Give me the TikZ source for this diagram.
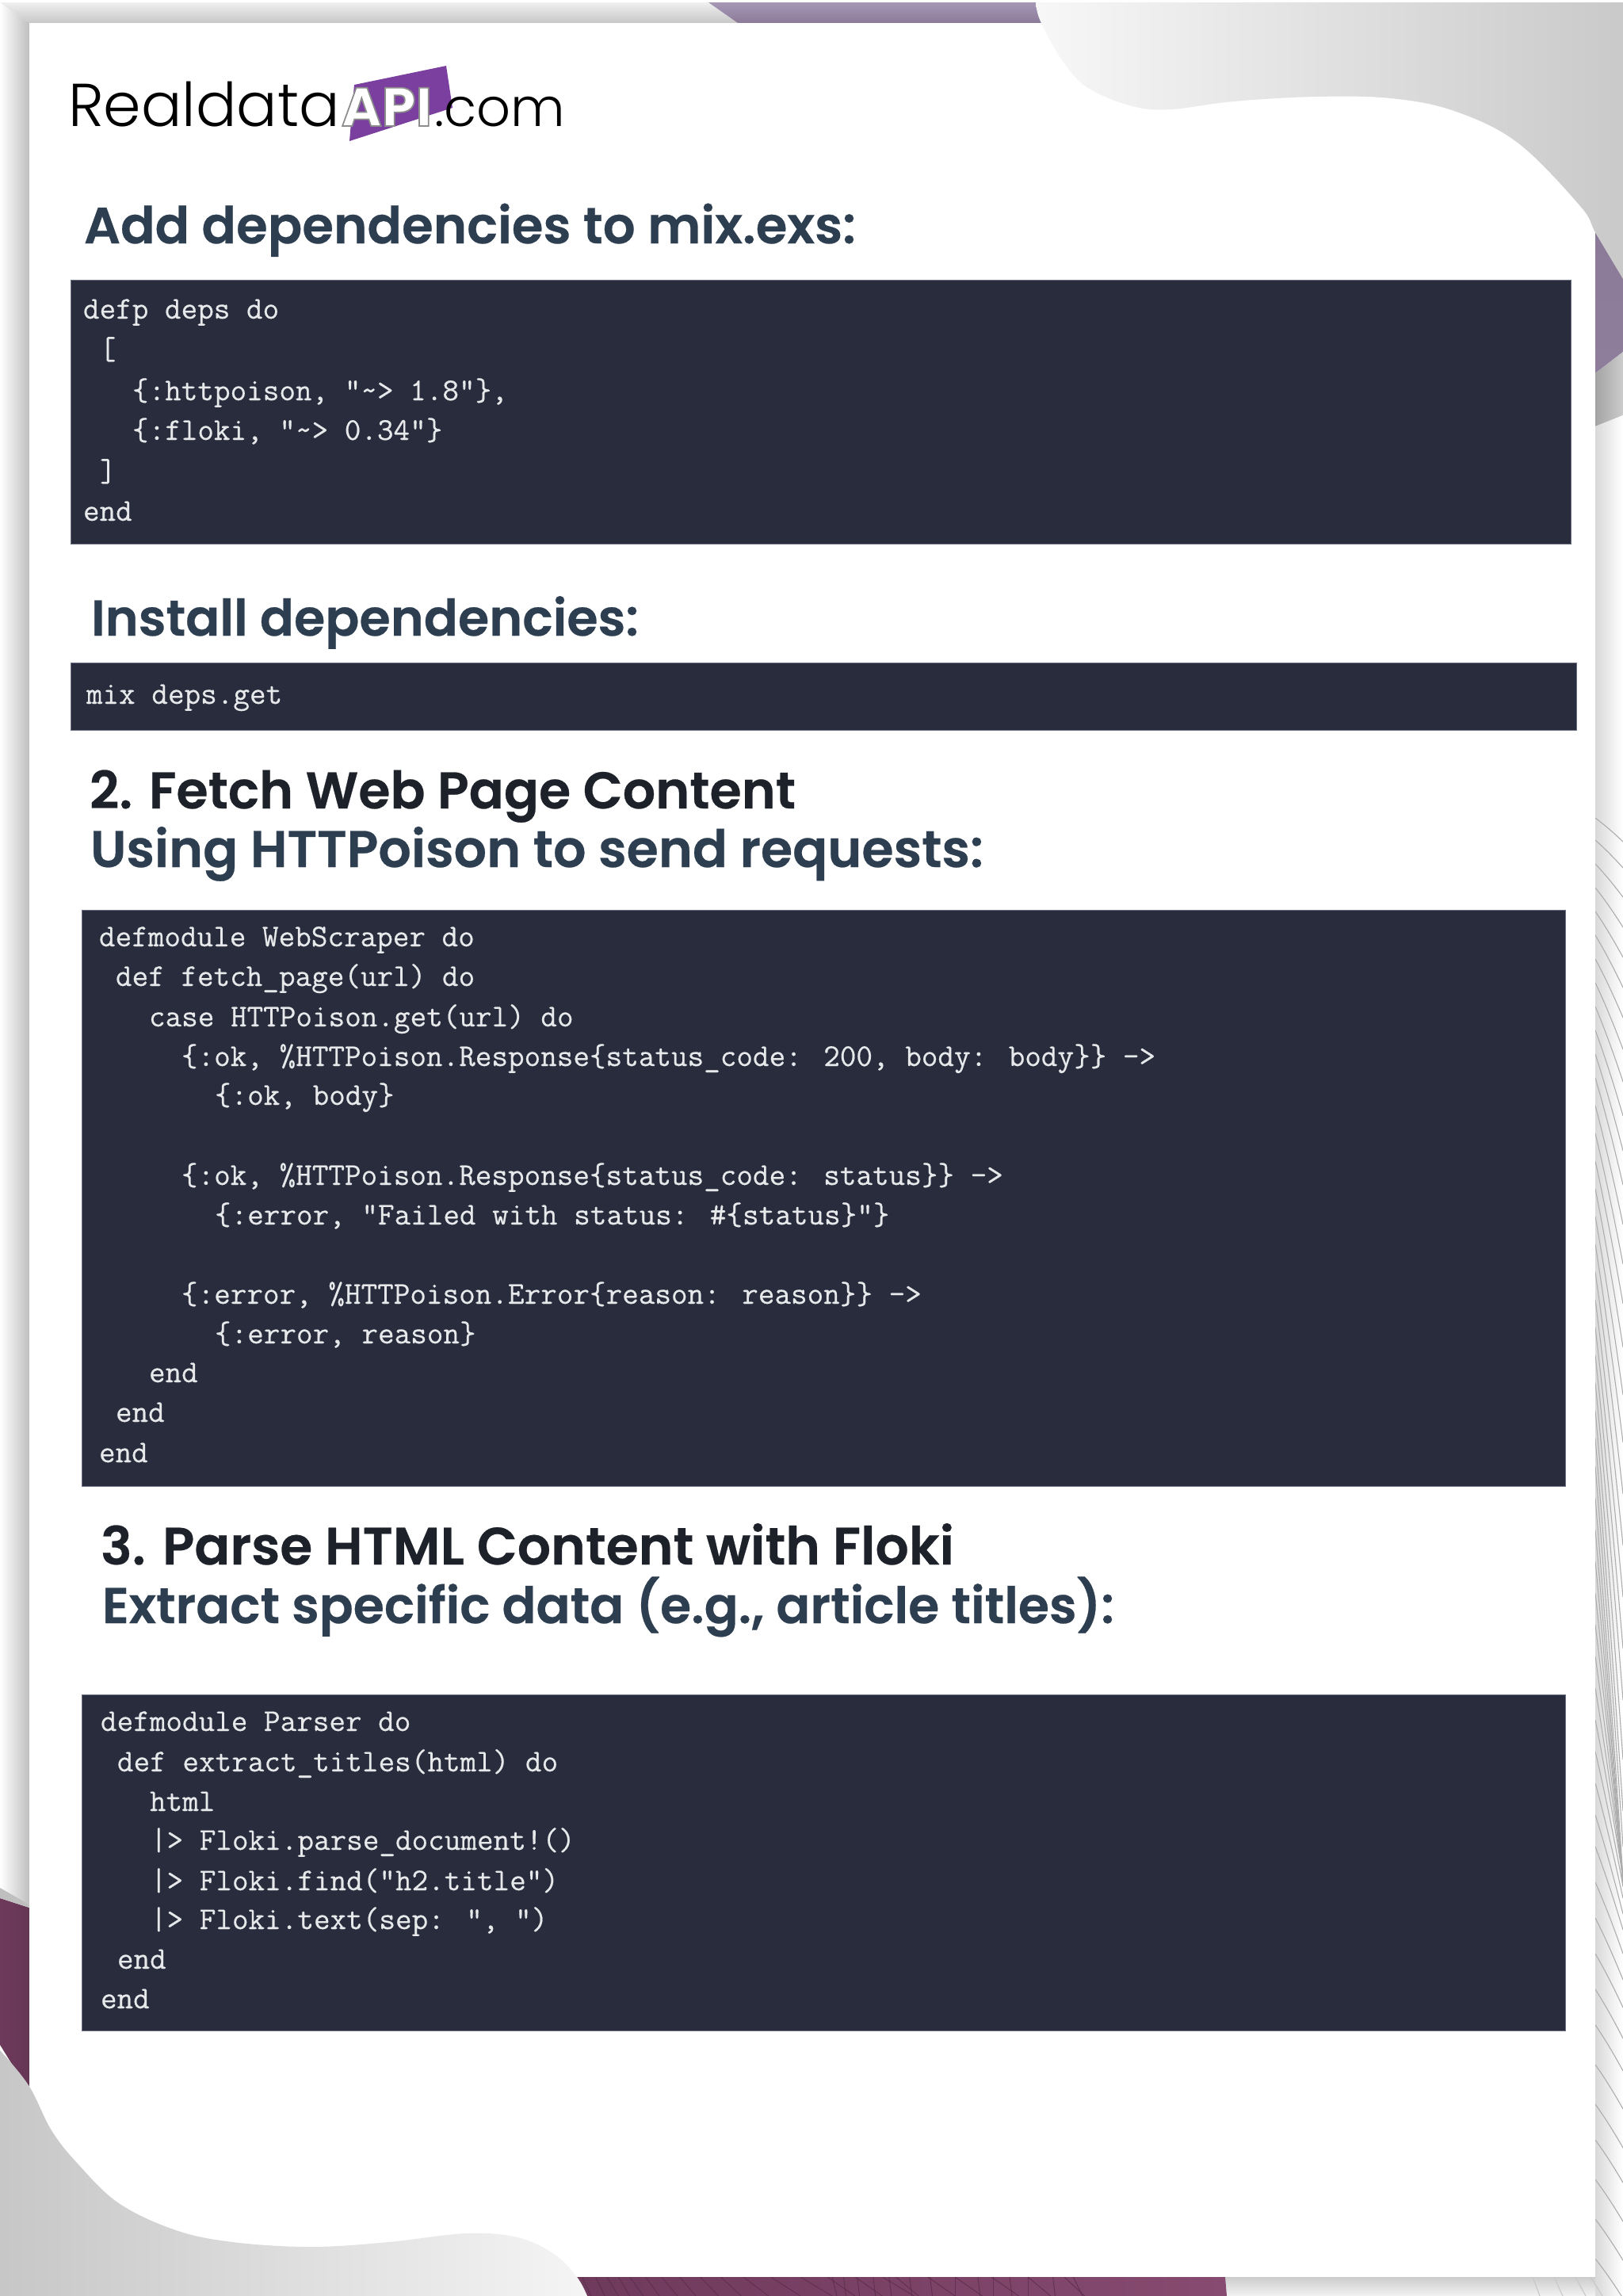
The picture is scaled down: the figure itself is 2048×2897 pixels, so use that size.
\documentclass[tikz,border=0pt]{standalone}
\usepackage{fontspec}
\usepackage{graphicx}
\setmainfont{Poppins}
\newfontfamily\hdfont[FakeBold=0.4]{Poppins SemiBold}
\newfontfamily\logofont{Poppins Light}
\newfontfamily\apifont[FakeBold=2.5]{Poppins Bold}
\newfontfamily\codefont[FakeBold=0.45]{Latin Modern Mono}
\definecolor{codebg}{HTML}{282C3D}
\definecolor{boxedge}{HTML}{6C6F82}
\definecolor{codefg}{HTML}{E6E8EA}
\definecolor{hdblue}{HTML}{2C3E50}
\definecolor{hdblack}{HTML}{1D2129}
\definecolor{plumA}{HTML}{6E3A5C}
\definecolor{plumB}{HTML}{874A70}
\definecolor{plumline}{HTML}{5A2C4A}
\definecolor{logopurple}{HTML}{7B3FA0}
\definecolor{mauveA}{HTML}{A797B7}
\definecolor{mauveB}{HTML}{8B7B98}
\definecolor{mauveC}{HTML}{8E7E9B}
\tikzset{
  x=0.5pt,y=-0.5pt,
  codebox/.style={fill=codebg,draw=boxedge,line width=0.4pt},
  codeline/.style={anchor=base west,inner sep=0pt,outer sep=0pt,text=codefg,font=\codefont\fontsize{20}{22}\selectfont},
  heading/.style={anchor=base west,inner sep=0pt,outer sep=0pt,font=\hdfont\fontsize{30}{34}\selectfont},
  logotext/.style={anchor=base west,inner sep=0pt,outer sep=0pt,text=black,font=\logofont\fontsize{30}{34}\selectfont},
  wave/.style={draw=black!32,line width=0.55pt},
  plumhatch/.style={draw=plumline,line width=0.5pt,opacity=0.75},
}
\newcommand\cl[4]{\node[codeline] (#1) at (#2,#3) {#4};}
\begin{document}
\begin{tikzpicture}
\useasboundingbox (0,0) rectangle (2048,2897);
\fill[white] (0,0) rectangle (2048,2897);
% shadow strips
\shade[left color=white,middle color=black!5,right color=black!25] (0,3) -- (37,29) -- (37,2403) -- (0,2382) -- cycle;
\shade[top color=black!6,bottom color=black!22] (0,3) -- (37,29) -- (931,29) -- (894,3) -- cycle;
% plum and purple bands
\shade[top color=mauveA,bottom color=mauveB] (894,3) -- (931,29) -- (1330,29) -- (1307,3) -- cycle;
\shade[left color=plumA,right color=plumA!92!black] (0,2395) -- (37,2407) -- (37,2640) -- (0,2580) -- cycle;
\fill[black!25] (0,2382) -- (37,2403) -- (37,2407) -- (0,2395) -- cycle;
\shade[top color=mauveB,bottom color=mauveC] (2013,290) -- (2048,350) -- (2048,444) -- (2013,471) -- cycle;
\shade[left color=black!36,right color=black!20] (2013,471) -- (2048,444) -- (2048,524) -- (2013,538) -- cycle;
\shade[left color=black!15,middle color=black!4,right color=white] (2013,538) -- (2048,524) -- (2048,2897) -- (2013,2897) -- cycle;
\shade[top color=black!20,bottom color=black!5] (1546,2873) rectangle (2013,2897);
\shade[left color=plumA,right color=plumB] (728,2873) -- (1546,2873) -- (1548,2897) -- (741,2897) -- cycle;
% wave lines on the right edge
\begin{scope}
\clip (2013,1000) rectangle (2048,2897);
\foreach \a/\b in {1032/30,1060/35,1090/42,1120/50,1150/58,1180/66,1210/74,1240/84,1270/95,1300/108,1330/122,1360/135,1395/150,1430/165,1465/180,1500/200,1535/225,1570/250,1605/280,1640/310,1675/340,1710/370,1745/400,1780/440,1815/470,1850/480,1890/480,1930/450,1970/410,2010/370,2050/320,2090/280,2130/240,2170/200,2210/170,2250/145,2290/125,2330/105,2375/90,2420/78,2465/68,2510/62,2555/58,2605/56,2655/55,2700/54,2750/53,2800/52,2850/50}
  \draw[wave] (2013,\a) .. controls ({2013+12},{\a+0.3*\b}) and ({2013+24},{\a+0.65*\b}) .. (2048,{\a+\b});
\end{scope}
\foreach \a/\b in {1934/1943,1961/1972,1988/2001,2007/2022}
  \draw[wave,black!22] (\a,2873) -- (\b,2897);
% hatching in the plum band
\foreach \a/\b in {60/80,90/110,115/140,140/165,165/195,200/230,235/270,275/310,320/360,365/410,415/470,475/540,540/610,600/660,660/720,720/790,750/800,820/880,880/940,960/1020,1040/1090,1120/1165,610/620,635/640,665/670,700/705,735/740,780/785,825/830,880/880,930/935,965/965,1000/1005,1040/1040,1095/1100,1140/1160}
  \draw[plumhatch] ({700+\a/1.742},2873) -- ({700+\b/1.742},2897);
% white page
\fill[white] (37,29) rectangle (2013,2873);
% grey curves
\shade[left color=black!3,right color=black!21]
  (2048,3) -- (1307,3) -- plot[smooth,tension=0.6] coordinates {(1307,3) (1313,27) (1341,77) (1373,111) (1429,134) (1477,138) (1556,128) (1660,122) (1755,124) (1835,140) (1915,180) (1994,260) (2014,295) (2048,352)} -- cycle;
\shade[left color=black!22,right color=black!4]
  (0,2897) -- (0,2587) -- plot[smooth,tension=0.6] coordinates {(0,2587) (36,2631) (65,2688) (98,2730) (150,2780) (222,2814) (294,2829) (392,2835) (490,2829) (588,2818) (653,2823) (699,2844) (728,2873) (741,2897)} -- cycle;
% logo
\fill[logopurple] (447,107) -- (563,83) -- (571,136) -- (441,178) -- cycle;
\node[logotext] (logoreal) at (86,159) {\resizebox{171.5pt}{!}{Realdata}};
\node[logotext,text=white] (logoapi) at (431,159) {\resizebox{57pt}{!}{\apifont\special{pdf:code 0.55 G}API}};
\node[logotext] (logocom) at (548,159) {\resizebox{82.5pt}{!}{.com}};
% headings
\node[heading,text=hdblue] (h1) at (106,307) {\resizebox{487pt}{!}{Add dependencies to mix.exs:}};
\node[heading,text=hdblue] (h2) at (115,802) {\resizebox{345.5pt}{!}{Install dependencies:}};
\node[heading,text=hdblack] (h3) at (113,1020) {\resizebox{445.5pt}{!}{2. Fetch Web Page Content}};
\node[heading,text=hdblue] (h4) at (114,1094) {\resizebox{563.5pt}{!}{Using HTTPoison to send requests:}};
\node[heading,text=hdblack] (h5) at (127,1974) {\resizebox{538.5pt}{!}{3. Parse HTML Content with Floki}};
\node[heading,text=hdblue] (h6) at (129,2048) {\resizebox{638.5pt}{!}{Extract specific data (e.g., article titles):}};
% code boxes
\path[codebox] (89,353) rectangle (1982,686);
\path[codebox] (89,836) rectangle (1989,921);
\path[codebox] (103,1148) rectangle (1975,1875);
\path[codebox] (103,2138) rectangle (1975,2562);
% box 1
\cl{a1}{105}{402}{defp deps do}
\cl{a2}{126}{453}{[}
\cl{a3}{167}{505}{\{:httpoison, "\string~> 1.8"\},}
\cl{a4}{167}{555}{\{:floki, "\string~> 0.34"\}}
\cl{a5}{126}{607}{]}
\cl{a6}{105}{657}{end}
% box 2
\cl{b1}{109}{888}{mix deps.get}
% box 3
\cl{c1}{125}{1194}{defmodule WebScraper do}
\cl{c2}{146}{1244}{def fetch\_page(url) do}
\cl{c3}{188}{1295}{case HTTPoison.get(url) do}
\cl{c4}{229}{1345}{\{:ok, \%HTTPoison.Response\{status\_code: 200, body: body\}\} ->}
\cl{c5}{271}{1394}{\{:ok, body\}}
\cl{c6}{229}{1495}{\{:ok, \%HTTPoison.Response\{status\_code: status\}\} ->}
\cl{c7}{271}{1545}{\{:error, "Failed with status: \#\{status\}"\}}
\cl{c8}{229}{1645}{\{:error, \%HTTPoison.Error\{reason: reason\}\} ->}
\cl{c9}{271}{1695}{\{:error, reason\}}
\cl{c10}{188}{1744}{end}
\cl{c11}{146}{1794}{end}
\cl{c12}{125}{1845}{end}
% box 4
\cl{d1}{127}{2184}{defmodule Parser do}
\cl{d2}{148}{2235}{def extract\_titles(html) do}
\cl{d3}{189}{2285}{html}
\cl{d4}{190}{2334}{|> Floki.parse\_document!()}
\cl{d5}{190}{2385}{|> Floki.find("h2.title")}
\cl{d6}{190}{2434}{|> Floki.text(sep: ", ")}
\cl{d7}{148}{2484}{end}
\cl{d8}{127}{2534}{end}
\end{tikzpicture}
\end{document}
